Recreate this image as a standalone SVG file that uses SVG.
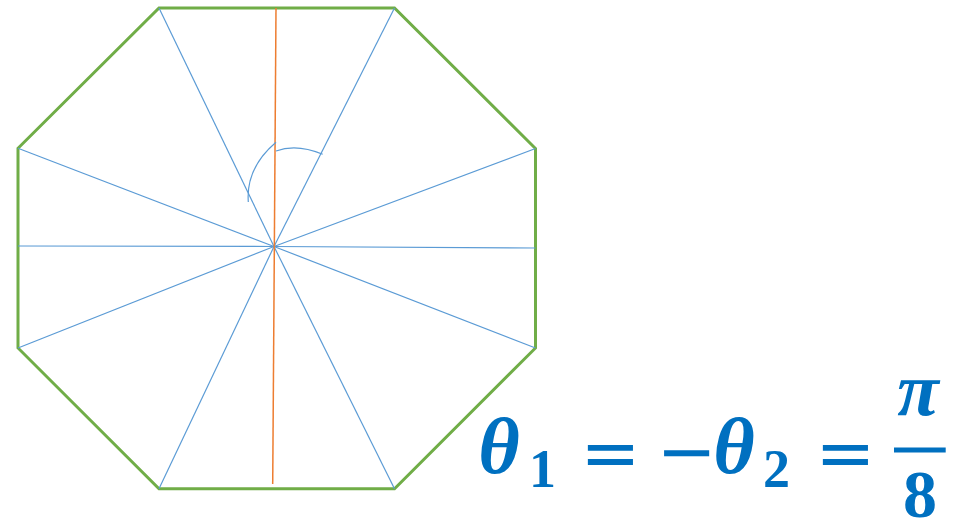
<svg xmlns="http://www.w3.org/2000/svg" width="973" height="523" viewBox="0 0 973 523">
<style>
.oct{fill:none;stroke:#70AD47;stroke-width:3;stroke-linejoin:miter}
.ray{stroke:#5B9BD5;stroke-width:1.2;fill:none}
.axis{stroke:#ED7D31;stroke-width:1.5}
.m{fill:#0070C0;font-family:"Liberation Serif","DejaVu Serif",serif;font-weight:bold;text-anchor:middle}
.it{font-style:italic}
.op{font-family:"DejaVu Sans",sans-serif;font-weight:normal}
</style>
<rect width="973" height="523" fill="#fff"/>
<g id="octagon">
<polygon class="oct" points="159,8 394.5,8 535.5,148.5 535.5,348 394.5,488.7 159,488.7 18,348 18,148.3"/>
</g>
<g id="rays">
<line class="ray" x1="274" y1="246.5" x2="159" y2="8"/>
<line class="ray" x1="274" y1="246.5" x2="394.5" y2="8"/>
<line class="ray" x1="274" y1="246.5" x2="535.5" y2="148.5"/>
<line class="ray" x1="274" y1="246.5" x2="535.5" y2="248"/>
<line class="ray" x1="274" y1="246.5" x2="535.5" y2="348"/>
<line class="ray" x1="274" y1="246.5" x2="394.5" y2="488.7"/>
<line class="ray" x1="274" y1="246.5" x2="159" y2="488.7"/>
<line class="ray" x1="274" y1="246.5" x2="18" y2="348"/>
<line class="ray" x1="274" y1="246.5" x2="18" y2="246"/>
<line class="ray" x1="274" y1="246.5" x2="18" y2="148.3"/>
</g>
<g id="axis">
<line class="axis" x1="276" y1="8" x2="272.7" y2="484"/>
</g>
<g id="angles">
<path class="ray" d="M276,142.3 Q245.8,168 248.3,202"/>
<path class="ray" d="M276,151 Q296.7,143.3 322.7,154.3"/>
</g>
<g id="formula">
<text class="m it" x="499" y="473" font-size="80">θ</text>
<text class="m" x="542.5" y="487" font-size="54">1</text>
<text class="m op" x="610.5" y="477" font-size="72">=</text>
<text class="m op" x="686.5" y="476" font-size="72">−</text>
<text class="m it" x="734" y="473" font-size="80">θ</text>
<text class="m" x="776.5" y="487" font-size="54">2</text>
<text class="m op" x="845.5" y="477" font-size="72">=</text>
<text class="m it" x="918" y="415" font-size="76">π</text>
<line x1="894" y1="450" x2="945.7" y2="450" stroke="#0070C0" stroke-width="5"/>
<text class="m" x="920" y="517" font-size="68">8</text>
</g>
</svg>
